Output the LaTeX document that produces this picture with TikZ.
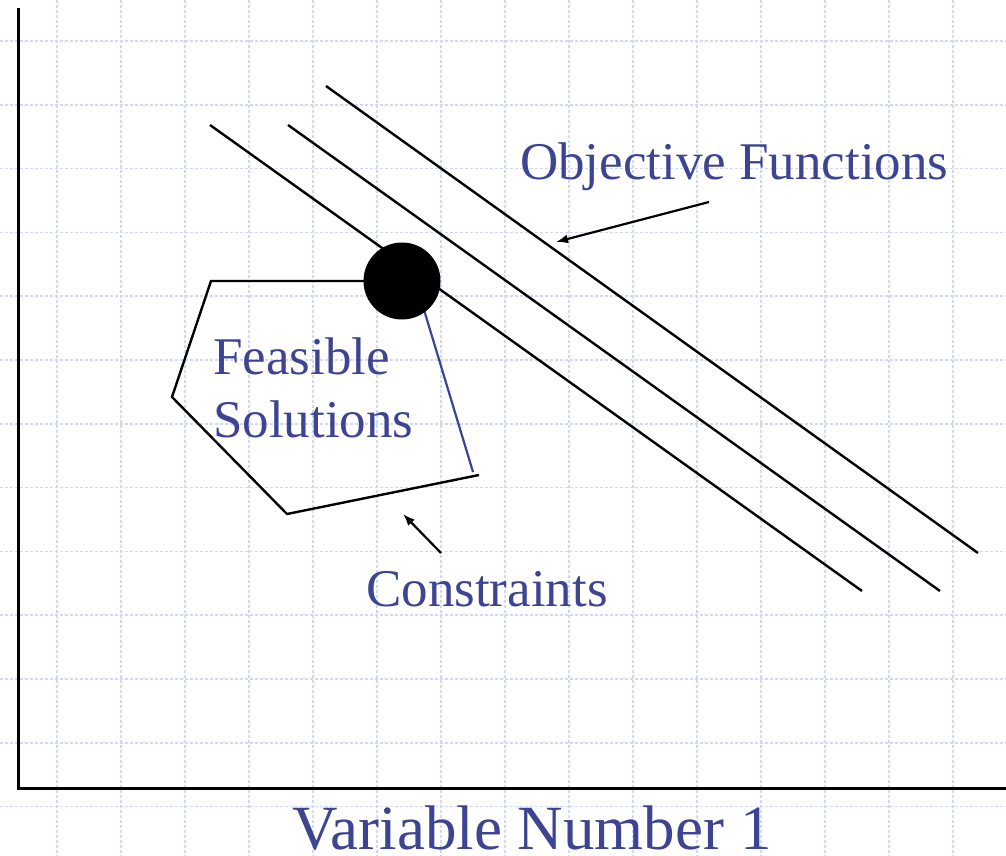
\documentclass[tikz,border=0pt]{standalone}
\usepackage{fontspec}
\setmainfont{Liberation Serif}
\usetikzlibrary{arrows.meta}
\definecolor{txtblue}{RGB}{61,68,145}
\definecolor{gridblue}{RGB}{205,217,250}
\begin{document}
\begin{tikzpicture}[x=1pt,y=-1pt,
  gridline/.style={gridblue,line width=1.5pt,dash pattern=on 3pt off 2pt},
  axisline/.style={black,line width=3pt},
  objline/.style={black,line width=2.4pt},
  polyline/.style={black,line width=2.4pt,line join=miter},
  bluecon/.style={txtblue,line width=2.2pt},
  ptr/.style={black,line width=2.2pt,-{Latex[length=12pt,width=9pt]}},
  lbl/.style={txtblue,anchor=base west,inner sep=0pt,font=\fontsize{53}{63}\selectfont},
  biglbl/.style={txtblue,anchor=base west,inner sep=0pt,font=\fontsize{63}{70}\selectfont}]
\useasboundingbox (0,0) rectangle (1006,856);
\fill[white] (0,0) rectangle (1006,856);
% grid
\foreach \i in {0,...,14} {\draw[gridline] (57+64*\i,0) -- (57+64*\i,856);}
\foreach \j in {0,...,12} {\draw[gridline] (0,41+63.8*\j) -- (1006,41+63.8*\j);}
% axes
\coordinate (ytop) at (18,8);
\coordinate (orig) at (18,788);
\coordinate (xend) at (1006,788);
\draw[axisline] (ytop) -- (orig) -- (xend);
% objective function lines
\coordinate (o1a) at (210,125); \coordinate (o1b) at (862,591);
\coordinate (o2a) at (288,125); \coordinate (o2b) at (940,591);
\coordinate (o3a) at (326,86);  \coordinate (o3b) at (978,553);
\draw[objline] (o1a) -- (o1b);
\draw[objline] (o2a) -- (o2b);
\draw[objline] (o3a) -- (o3b);
% feasible region
\coordinate (p1) at (380,281);
\coordinate (p2) at (211,281);
\coordinate (p3) at (172,397);
\coordinate (p4) at (287,514);
\coordinate (p5) at (479,475);
\draw[polyline] (p1) -- (p2) -- (p3) -- (p4) -- (p5);
\coordinate (b1) at (473,472);
\coordinate (b2) at (418,290);
\draw[bluecon] (b1) -- (b2);
% optimum point
\node[circle,fill=black,minimum size=77pt,inner sep=0pt] (opt) at (402,281) {};
% labels
\node[lbl] (feas) at (213,374) {Feasible};
\node[lbl] (sol) at (213,437) {Solutions};
\node[lbl] (obj) at (520,179) {Objective Functions};
\node[lbl] (con) at (366,606) {Constraints};
\node[biglbl] (var) at (292,849) {Variable Number 1};
% pointers
\coordinate (oa) at (709,202); \coordinate (ob) at (556,242);
\draw[ptr] (oa) -- (ob);
\coordinate (ca) at (441,553); \coordinate (cb) at (403,514);
\draw[ptr] (ca) -- (cb);
\end{tikzpicture}
\end{document}
